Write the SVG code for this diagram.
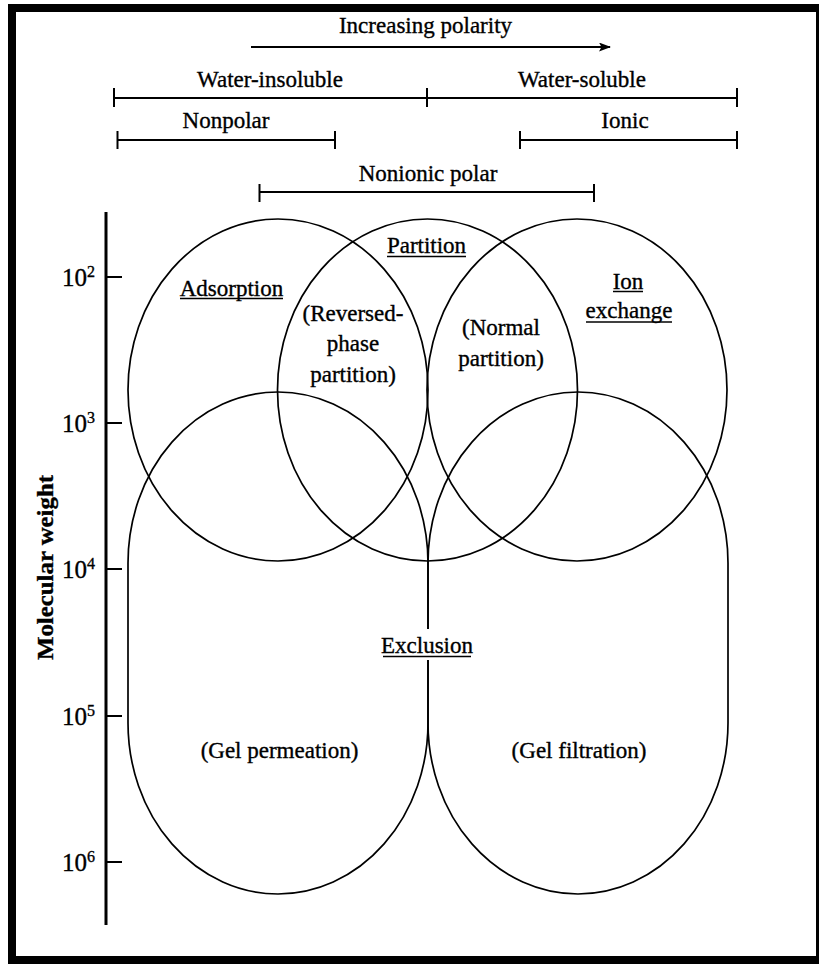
<svg xmlns="http://www.w3.org/2000/svg" width="819" height="964" viewBox="0 0 819 964" font-family="'Liberation Serif', 'DejaVu Serif', serif">
<style>
  text { font-family: 'Liberation Serif', 'Times New Roman', 'DejaVu Serif', serif; fill: #000; stroke: #000; stroke-width: 0.35; }
  .lbl { font-size: 23px; text-anchor: middle; }
  .num { font-size: 25px; }
  .sup { font-size: 16px; }
  .shape { fill: none; stroke: #000; stroke-width: 1.7; }
  .bar { stroke: #000; stroke-width: 2.2; fill: none; }
  .ul { stroke: #000; stroke-width: 1.5; }
  .tick { stroke: #000; stroke-width: 2; }
</style>
<defs>
  <marker id="arrow" markerWidth="12" markerHeight="9" refX="11" refY="4.5" orient="auto" markerUnits="userSpaceOnUse">
    <path d="M0,0 L12,4.5 L0,9 L2.5,4.5 Z" fill="#000"/>
  </marker>
</defs>
<rect width="819" height="964" fill="#fff"/>
<rect x="12" y="8" width="808" height="952" fill="none" stroke="#000" stroke-width="8"/>

<g id="polarity-scale">
  <text class="lbl" x="425.5" y="33">Increasing polarity</text>
  <line class="bar" x1="251" y1="47" x2="610" y2="47" stroke-width="2.5" marker-end="url(#arrow)"/>
  <text class="lbl" x="270" y="87">Water-insoluble</text>
  <text class="lbl" x="582" y="87">Water-soluble</text>
  <line class="bar" x1="114" y1="98" x2="737" y2="98"/>
  <line class="tick" x1="114" y1="88" x2="114" y2="107"/>
  <line class="tick" x1="427" y1="88" x2="427" y2="107"/>
  <line class="tick" x1="737" y1="88" x2="737" y2="107"/>
  <text class="lbl" x="226" y="128">Nonpolar</text>
  <line class="bar" x1="117.5" y1="140" x2="335" y2="140"/>
  <line class="tick" x1="117.5" y1="131" x2="117.5" y2="149"/>
  <line class="tick" x1="335" y1="131" x2="335" y2="149"/>
  <text class="lbl" x="625" y="128">Ionic</text>
  <line class="bar" x1="520" y1="140" x2="737" y2="140"/>
  <line class="tick" x1="520" y1="131" x2="520" y2="149"/>
  <line class="tick" x1="737" y1="131" x2="737" y2="149"/>
  <text class="lbl" x="428" y="181">Nonionic polar</text>
  <line class="bar" x1="259.5" y1="192" x2="594" y2="192"/>
  <line class="tick" x1="259.5" y1="184" x2="259.5" y2="202"/>
  <line class="tick" x1="594" y1="184" x2="594" y2="202"/>
</g>

<g id="axis">
  <line x1="106" y1="212" x2="106" y2="925" stroke="#000" stroke-width="3"/>
  <line class="tick" x1="106" y1="277" x2="122" y2="277"/>
  <line class="tick" x1="106" y1="423" x2="122" y2="423"/>
  <line class="tick" x1="106" y1="569" x2="122" y2="569"/>
  <line class="tick" x1="106" y1="716" x2="122" y2="716"/>
  <line class="tick" x1="106" y1="862" x2="122" y2="862"/>
  <text class="num" x="62" y="286">10<tspan class="sup" dy="-9">2</tspan></text>
  <text class="num" x="62" y="432">10<tspan class="sup" dy="-9">3</tspan></text>
  <text class="num" x="62" y="578">10<tspan class="sup" dy="-9">4</tspan></text>
  <text class="num" x="62" y="725">10<tspan class="sup" dy="-9">5</tspan></text>
  <text class="num" x="62" y="871">10<tspan class="sup" dy="-9">6</tspan></text>
  <text x="53" y="567.5" transform="rotate(-90 53 567.5)" text-anchor="middle" font-size="23" font-weight="bold" textLength="185" lengthAdjust="spacingAndGlyphs">Molecular weight</text>
</g>

<g id="adsorption">
  <ellipse class="shape" cx="278" cy="390" rx="150" ry="171"/>
  <text class="lbl" x="231.5" y="296">Adsorption</text>
  <line class="ul" x1="180" y1="298.5" x2="283" y2="298.5"/>
</g>

<g id="partition">
  <ellipse class="shape" cx="427.5" cy="390" rx="150" ry="171"/>
  <text class="lbl" x="426.5" y="253">Partition</text>
  <line class="ul" x1="387" y1="256.5" x2="466" y2="256.5"/>
  <text class="lbl" x="353" y="321">(Reversed-</text>
  <text class="lbl" x="353" y="351">phase</text>
  <text class="lbl" x="353" y="382">partition)</text>
  <text class="lbl" x="501" y="335">(Normal</text>
  <text class="lbl" x="501" y="366">partition)</text>
</g>

<g id="ion-exchange">
  <ellipse class="shape" cx="577" cy="390" rx="150" ry="171"/>
  <text class="lbl" x="628" y="289">Ion</text>
  <line class="ul" x1="613" y1="291.5" x2="643" y2="291.5"/>
  <text class="lbl" x="629" y="318">exchange</text>
  <line class="ul" x1="586" y1="322" x2="672" y2="322"/>
</g>

<g id="gel-permeation">
  <path class="shape" d="M128,563 A150,171 0 0 1 428,563 V723 A150,171 0 0 1 128,723 Z"/>
  <text class="lbl" x="279.5" y="758">(Gel permeation)</text>
</g>

<g id="gel-filtration">
  <path class="shape" d="M428,563 A150,171 0 0 1 728,563 V723 A150,171 0 0 1 428,723 Z"/>
  <text class="lbl" x="579" y="758">(Gel filtration)</text>
</g>

<g id="exclusion">
  <rect x="384" y="629" width="88" height="31" fill="#fff"/>
  <text class="lbl" x="427" y="653">Exclusion</text>
  <line class="ul" x1="383" y1="656.5" x2="471" y2="656.5"/>
</g>

<g id="connectors"></g>
</svg>
